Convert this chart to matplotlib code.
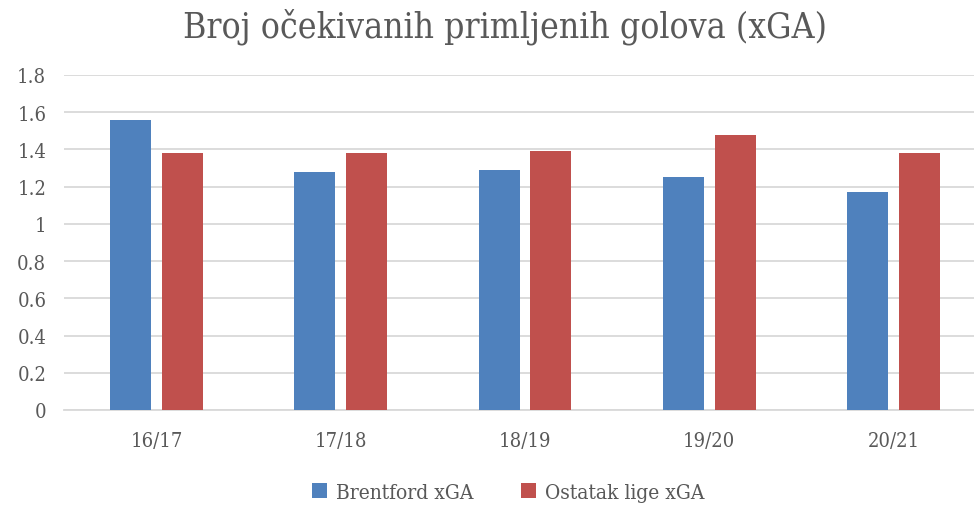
import matplotlib
matplotlib.use("Agg")
import matplotlib.pyplot as plt
import numpy as np

seasons = ["16/17", "17/18", "18/19", "19/20", "20/21"]
brentford = [1.56, 1.28, 1.29, 1.25, 1.17]
ostatak = [1.38, 1.38, 1.39, 1.48, 1.38]
yticks = [0, 0.2, 0.4, 0.6, 0.8, 1, 1.2, 1.4, 1.6, 1.8]
ytick_labels = ["0", "0.2", "0.4", "0.6", "0.8", "1", "1.2", "1.4", "1.6", "1.8"]

txt = "#595959"
plt.rcParams['font.family'] = ['DejaVu Serif']
plt.rcParams['font.stretch'] = 'condensed'

fig = plt.figure(figsize=(9.74, 5.10), dpi=100)
left, right = 64.4, 985.6
ax = fig.add_axes([left/974, 1-411/510, (right-left)/974, (411-76)/510])

x = np.arange(len(seasons))
w = 0.2225
off = 0.141
ax.bar(x - off, brentford, w, color="#4f81bd", label="Brentford xGA", zorder=3)
ax.bar(x + off, ostatak, w, color="#c0504d", label="Ostatak lige xGA", zorder=3)

ax.set_xlim(-0.5, len(seasons) - 0.5)
ax.set_ylim(0, 1.8)
ax.set_yticks(yticks)
ax.set_yticklabels(ytick_labels)
ax.set_xticks(x)
ax.set_xticklabels(seasons)
ax.yaxis.grid(True, color="#d9d9d9", linewidth=1.3, zorder=0)
ax.set_axisbelow(True)
for s in ["top", "right", "left"]:
    ax.spines[s].set_visible(False)
ax.spines["bottom"].set_color("#d9d9d9")
ax.spines["bottom"].set_linewidth(1.3)
ax.tick_params(axis="both", length=0, colors=txt, labelsize=14.5)
ax.tick_params(axis="y", pad=13)
ax.tick_params(axis="x", pad=15)

fig.text(0.518, 0.948, "Broj očekivanih primljenih golova (xGA)", ha="center", va="center",
         fontsize=25.5, color=txt)

leg = fig.legend(loc="center", bbox_to_anchor=(0.522, 0.033), ncol=2, frameon=False,
                 fontsize=15, handlelength=0.7, handleheight=0.7, columnspacing=2.3,
                 handletextpad=0.45, labelcolor=txt)

fig.savefig("out.png", dpi=100)
